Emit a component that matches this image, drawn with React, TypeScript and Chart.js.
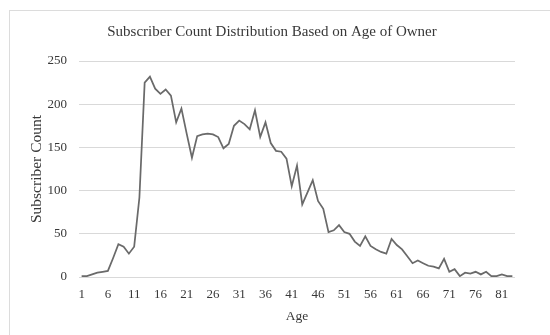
import React, { useEffect, useRef } from "react";
import { Chart, registerables } from "chart.js";

Chart.register(...registerables);

const TITLE = "Subscriber Count Distribution Based on Age of Owner";
const X_TITLE = "Age";
const Y_TITLE = "Subscriber Count";

const ages = [
  1, 2, 3, 4, 5, 6, 7, 8, 9, 10, 11, 12, 13, 14, 15, 16, 17, 18, 19, 20,
  21, 22, 23, 24, 25, 26, 27, 28, 29, 30, 31, 32, 33, 34, 35, 36, 37, 38, 39, 40,
  41, 42, 43, 44, 45, 46, 47, 48, 49, 50, 51, 52, 53, 54, 55, 56, 57, 58, 59, 60,
  61, 62, 63, 64, 65, 66, 67, 68, 69, 70, 71, 72, 73, 74, 75, 76, 77, 78, 79, 80,
  81, 82, 83,
];

const subscriberCounts = [
  1, 1, 3, 5, 6, 7, 22, 38, 35, 27, 35, 92, 225, 232, 218, 212, 217, 210, 179, 195,
  166, 138, 163, 165, 166, 165, 162, 149, 154, 175, 181, 177, 171, 193, 162, 179, 155, 146, 145, 137,
  105, 129, 84, 98, 112, 88, 79, 52, 54, 60, 52, 50, 41, 36, 47, 36, 32, 29, 27, 44,
  37, 32, 24, 16, 19, 16, 13, 12, 10, 21, 6, 9, 1, 5, 4, 6, 3, 6, 1, 1,
  3, 1, 1,
];

const yTicks = [0, 50, 100, 150, 200, 250];

const FONT = "'Liberation Serif', 'Times New Roman', serif";
const TEXT = "#383838";

export default function App() {
  const ref = useRef<HTMLCanvasElement | null>(null);

  useEffect(() => {
    if (!ref.current) return;
    const chart = new Chart(ref.current, {
      type: "line",
      data: {
        labels: ages.map(String),
        datasets: [
          {
            data: subscriberCounts,
            borderColor: "#6a6a6a",
            borderWidth: 1.75,
            pointRadius: 0,
            tension: 0,
            fill: false,
          },
        ],
      },
      options: {
        animation: false,
        responsive: true,
        maintainAspectRatio: false,
        layout: { padding: { left: 20, right: 20, top: 0, bottom: 10 } },
        plugins: {
          legend: { display: false },
          tooltip: { enabled: false },
          title: {
            display: true,
            text: TITLE,
            color: TEXT,
            font: { family: FONT, size: 15, weight: "normal" },
            padding: { top: 13, bottom: 20 },
          },
        },
        scales: {
          x: {
            type: "category",
            offset: true,
            grid: { display: false, drawTicks: false },
            border: { display: false },
            afterFit: (s: any) => {
              s.height = 48;
            },
            ticks: {
              autoSkip: false,
              maxRotation: 0,
              minRotation: 0,
              padding: 10,
              color: TEXT,
              font: { family: FONT, size: 13 },
              callback: (_v: any, i: number) => (i % 5 === 0 ? String(ages[i]) : ""),
            },
            title: {
              display: true,
              text: X_TITLE,
              color: TEXT,
              font: { family: FONT, size: 13.5 },
              padding: { top: 4, bottom: 0 },
            },
          },
          y: {
            min: yTicks[0],
            max: yTicks[yTicks.length - 1],
            grid: { color: "#d9d9d9", drawTicks: false, lineWidth: 1 },
            border: { display: false },
            afterFit: (s: any) => {
              s.width = 50;
            },
            afterBuildTicks: (s: any) => {
              s.ticks = yTicks.map((v) => ({ value: v }));
            },
            ticks: {
              padding: 12,
              color: TEXT,
              font: { family: FONT, size: 13 },
            },
            title: {
              display: true,
              text: Y_TITLE,
              color: TEXT,
              font: { family: FONT, size: 15.5 },
              padding: { top: -1, bottom: 0 },
            },
          },
        },
      },
    });
    return () => chart.destroy();
  }, []);

  return (
    <div
      style={{
        position: "fixed",
        left: 0,
        top: 0,
        width: 550,
        height: 335,
        overflow: "hidden",
        background: "#fff",
      }}
    >
      <div
        style={{
          position: "absolute",
          left: 9,
          top: 10,
          width: 600,
          height: 400,
          border: "1px solid #dcdcdc",
          boxSizing: "border-box",
        }}
      />
      <div
        style={{
          position: "absolute",
          left: 9,
          top: 10,
          width: 526,
          height: 325,
        }}
      >
        <canvas ref={ref} />
      </div>
    </div>
  );
}
